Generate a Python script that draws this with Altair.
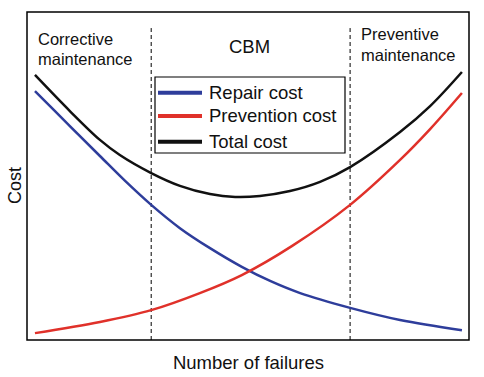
import altair as alt
import pandas as pd

# Number of failures (x) and cost (y) (0-10 scale)
repair_x = [0.18, 0.97, 1.65, 2.22, 2.81, 3.46, 4.14, 4.86, 5.50, 6.18, 7.31, 8.44, 9.84]
repair_y = [7.59, 6.52, 5.61, 4.85, 4.12, 3.41, 2.80, 2.23, 1.80, 1.43, 0.98, 0.61, 0.30]

prev_x = [0.18, 1.65, 2.81, 3.91, 4.86, 6.00, 7.31, 8.44, 9.12, 9.84]
prev_y = [0.21, 0.55, 0.91, 1.43, 1.98, 2.87, 4.12, 5.49, 6.43, 7.53]

total_x = [0.18, 0.97, 1.65, 2.10, 2.81, 3.46, 4.14, 4.71, 5.27, 5.95, 6.63, 7.31, 8.44, 9.12, 9.84]
total_y = [8.08, 6.98, 6.10, 5.64, 5.09, 4.70, 4.45, 4.36, 4.39, 4.54, 4.82, 5.27, 6.34, 7.13, 8.17]

series_names = ["Repair cost", "Prevention cost", "Total cost"]
series_colors = ["#2e3d9b", "#e0312a", "#111111"]

boundaries = [2.81, 7.31]
boundary_top = 9.51

rows = []
for n, xs, ys in zip(series_names, [repair_x, prev_x, total_x], [repair_y, prev_y, total_y]):
    for a, b in zip(xs, ys):
        rows.append({"failures": a, "cost": b, "series": n})
df = pd.DataFrame(rows)

bdf = pd.DataFrame({"x": boundaries, "y0": [0, 0], "y1": [boundary_top, boundary_top]})

xscale = alt.Scale(domain=[0, 10], nice=False, zero=False)
yscale = alt.Scale(domain=[0, 10], nice=False, zero=False)

FONT = "Liberation Sans"
INK = "#111111"

lines = alt.Chart(df).mark_line(strokeWidth=2.5, interpolate="catmull-rom").encode(
    x=alt.X("failures:Q", scale=xscale,
            axis=alt.Axis(title="Number of failures", labels=False, ticks=False, domain=False,
                          grid=False, titleFontSize=18.5, titleFont=FONT, titleFontWeight="normal",
                          titleColor=INK, titleBaseline="alphabetic", titleY=28)),
    y=alt.Y("cost:Q", scale=yscale,
            axis=alt.Axis(title="Cost", labels=False, ticks=False, domain=False, grid=False,
                          titleFontSize=18, titleFont=FONT, titleFontWeight="normal",
                          titleColor=INK, titleAngle=270, titleBaseline="alphabetic",
                          titleAlign="center", titleX=-7, titleY=173)),
    color=alt.Color("series:N", sort=series_names,
                    scale=alt.Scale(domain=series_names, range=series_colors),
                    legend=None),
    detail="series:N",
)

dashes = alt.Chart(bdf).mark_rule(color="black", strokeWidth=1, strokeDash=[4, 3]).encode(
    x=alt.X("x:Q", scale=xscale), y=alt.Y("y0:Q", scale=yscale), y2="y1:Q"
)

one = pd.DataFrame({"k": [0]})

def label(text, x, y, align="left", size=16.5):
    return alt.Chart(pd.DataFrame({"t": [text]})).mark_text(
        align=align, baseline="alphabetic", fontSize=size, font=FONT, color=INK
    ).encode(text="t:N", x=alt.value(x), y=alt.value(y))

annotations = (
    label("Corrective", 11, 33)
    + label("maintenance", 11, 53)
    + label("CBM", 222.5, 41, align="center", size=18.5)
    + label("Preventive", 334, 28)
    + label("maintenance", 334, 49)
)

# legend drawn by hand
legend_box = alt.Chart(one).mark_rect(fill="white", stroke="black", strokeWidth=1.2).encode(
    x=alt.value(128), x2=alt.value(318), y=alt.value(65), y2=alt.value(141)
)
legend_layers = [legend_box]
row_y = [80.7, 104, 129.7]
for name, col, ry in zip(series_names, series_colors, row_y):
    legend_layers.append(
        alt.Chart(one).mark_rule(color=col, strokeWidth=4).encode(
            x=alt.value(131), x2=alt.value(175), y=alt.value(ry)
        )
    )
    legend_layers.append(label(name, 182, ry + 6.2, size=18.5))

chart = alt.layer(dashes, lines, annotations, *legend_layers).properties(
    width=442, height=328,
    padding={"left": 27, "top": 12, "right": 15, "bottom": 37},
    autosize=alt.AutoSizeParams(type="none"),
    background="white",
).configure_view(stroke="black", strokeWidth=1.5)

chart.save("out.html", embed_options={"renderer": "svg", "actions": False})
